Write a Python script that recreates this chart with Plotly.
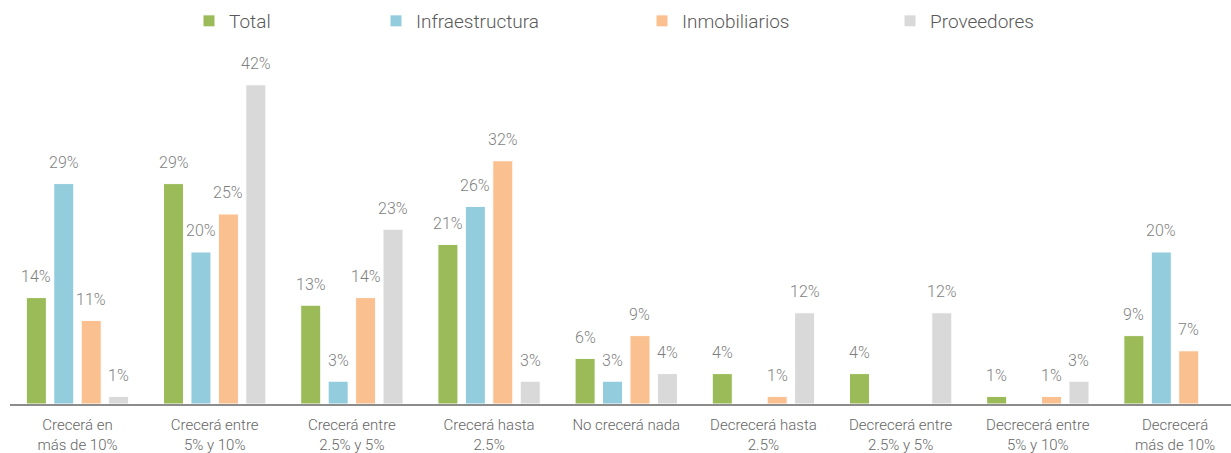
import plotly.graph_objects as go

# Survey categories (two-line tick labels)
categories = [
    "Crecerá en<br>más de 10%",
    "Crecerá entre<br>5% y 10%",
    "Crecerá entre<br>2.5% y 5%",
    "Crecerá hasta<br>2.5%",
    "No crecerá nada",
    "Decrecerá hasta<br>2.5%",
    "Decrecerá entre<br>2.5% y 5%",
    "Decrecerá entre<br>5% y 10%",
    "Decrecerá<br>más de 10%",
]

# Share of respondents per segment (%); None = no answer in that bucket
total = [14, 29, 13, 21, 6, 4, 4, 1, 9]
infraestructura = [29, 20, 3, 26, 3, None, None, None, 20]
inmobiliarios = [11, 25, 14, 32, 9, 1, None, 1, 7]
proveedores = [1, 42, 23, 3, 4, 12, 12, 3, None]

series_names = ["Total", "Infraestructura", "Inmobiliarios", "Proveedores"]
series_values = [total, infraestructura, inmobiliarios, proveedores]
colors = ["#9BBB59", "#93CDDD", "#FAC090", "#D9D9D9"]

FONT = "Roboto"
W, H = 1231, 453
margin_l, margin_r, margin_t, margin_b = 10, 0, 60, 49
x_range = [-0.492, 8.408]
y_range = [0, 45.26]
bargap = 0.2
bargroupgap = 0.27

plot_w = W - margin_l - margin_r
px_per_cat = plot_w / (x_range[1] - x_range[0])
slot = px_per_cat * (1 - bargap) / len(series_names)

# legend anchor positions (pixel x of each entry) along the top
legend_px = [189, 376, 642, 890]
legend_keys = ["legend", "legend2", "legend3", "legend4"]

fig = go.Figure()
for i, (name, vals, col) in enumerate(zip(series_names, series_values, colors)):
    fig.add_trace(go.Bar(
        x=categories, y=vals, name=name,
        marker=dict(color=col, line=dict(color="white", width=1)),
        legend=legend_keys[i], showlegend=True,
        hoverinfo="skip",
    ))

annotations = []
for i, vals in enumerate(series_values):
    offset = (i - (len(series_names) - 1) / 2) * slot
    for cat, v in zip(categories, vals):
        if v is None:
            continue
        annotations.append(dict(
            x=cat, y=v, xref="x", yref="y", text=f"{v}%",
            showarrow=False, xshift=offset, yshift=21, yanchor="middle",
            font=dict(family=FONT, size=16, color="#7F7F7F", weight=300),
        ))

layout_legends = {}
for key, px in zip(legend_keys, legend_px):
    layout_legends[key] = dict(
        x=(px - margin_l) / plot_w, xanchor="left",
        y=1 + (margin_t - 21) / (H - margin_t - margin_b), yanchor="middle",
        orientation="h", bgcolor="rgba(0,0,0,0)",
        font=dict(family=FONT, size=19, color="#595959", weight=300),
        itemclick=False, itemdoubleclick=False,
    )

fig.update_layout(
    width=W, height=H,
    margin=dict(l=margin_l, r=margin_r, t=margin_t, b=margin_b),
    paper_bgcolor="white", plot_bgcolor="white",
    showlegend=True,
    barmode="group", bargap=bargap, bargroupgap=bargroupgap,
    font=dict(family=FONT, color="#666666"),
    annotations=annotations,
    xaxis=dict(
        range=x_range, showline=True, linecolor="#8C8C8C", linewidth=2,
        ticks="", showgrid=False, zeroline=False, ticklabelstandoff=6,
        tickfont=dict(family=FONT, size=15, color="#666666", weight=300),
    ),
    yaxis=dict(range=y_range, visible=False, showgrid=False, zeroline=False),
    **layout_legends,
)

fig.write_html("out.html")
